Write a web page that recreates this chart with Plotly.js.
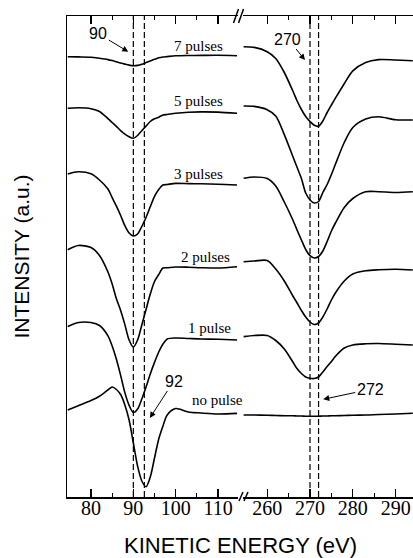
<!DOCTYPE html>
<html>
<head>
<meta charset="utf-8">
<script src="https://cdn.plot.ly/plotly-3.0.1.min.js"></script>
<style>html,body{margin:0;padding:0;background:#fff;}#chart{width:413px;height:558px;}</style>
</head>
<body>
<div id="chart"></div>
<script>
// Kinetic energy grids (eV)
const energyLeft = [74.5, 77, 80, 82, 84, 85, 86, 87, 88, 89, 90, 91, 92, 93, 94, 95, 96, 97, 98, 100, 103, 106, 110, 114.5];
const energyRight = [254.5, 257, 260, 262, 264, 266, 267, 268, 269, 270, 271, 272, 273, 274, 275, 276, 278, 280, 283, 286, 290, 294];

// Curve labels
const seriesNames = ['7 pulses', '5 pulses', '3 pulses', '2 pulses', '1 pulse', 'no pulse'];

// Intensity (a.u., stacked) – low-energy region
const pulses7Left = [440.3, 440.1, 439.8, 438.7, 437.4, 436.4, 435.2, 434, 432.9, 431.9, 431.3, 431.6, 432.7, 434.4, 436.1, 437.7, 439.2, 440, 440.4, 441.2, 441.5, 441.6, 441.7, 441.3];
const pulses5Left = [388.7, 389.3, 388.3, 385.5, 378.4, 374.5, 370.6, 366.4, 362.8, 360.2, 358.7, 361.5, 366.3, 370.9, 375.5, 378.2, 379.8, 382, 382.5, 383.7, 384.8, 385.1, 384.9, 383.7];
const pulses3Left = [323, 325.2, 323.2, 317, 308, 299.3, 290.8, 281.5, 271.3, 264, 261, 263, 270.5, 279.5, 290.2, 300.7, 307.5, 312, 312.5, 313.6, 313.4, 313.2, 312.8, 312];
const pulses2Left = [247.3, 251.5, 249.5, 241.5, 225, 213, 198.2, 186.5, 172.4, 157, 150, 157, 172, 187.5, 203, 215.5, 222.5, 229, 229.3, 230, 229.8, 229.3, 229, 230.3];
const pulses1Left = [170.5, 174.5, 174.5, 171.5, 161.2, 151, 137.7, 121.6, 104.4, 91.7, 84.5, 88, 98, 110, 123, 134.6, 145, 153, 158, 159, 158.5, 158, 157.7, 157];
const pulses0Left = [87, 91.2, 96.4, 100.8, 107.1, 110, 107.5, 102.5, 92, 77, 54, 31, 16, 10.3, 20, 39, 58, 71, 82.1, 88.5, 85, 84, 83, 83.6];

// Intensity (a.u., stacked) – high-energy region
const pulses7Right = [450.3, 449.6, 445.3, 438.5, 424.5, 406, 396, 387.5, 380.5, 375.5, 371.7, 370.8, 376, 384.5, 392, 399.3, 413.3, 426.1, 434.5, 437.4, 437, 436.3];
const pulses5Right = [391, 390.6, 387.3, 381, 362.4, 340.5, 329.5, 318.5, 304, 297, 294, 295.5, 304.5, 312.5, 322.5, 333.5, 354.5, 369.5, 378, 380.2, 377.3, 377];
const pulses3Right = [318.8, 320, 318.5, 311, 295, 277, 266.8, 257, 247.5, 241.3, 239, 240.5, 246, 255.5, 266, 274.5, 289.5, 298.5, 305.3, 305.3, 304.5, 305.3];
const pulses2Right = [235.3, 236, 236.5, 228, 216, 201, 194, 186.5, 180, 175, 172.5, 174, 180, 188, 197, 204.5, 216, 223, 226.2, 227.2, 227.7, 227];
const pulses1Right = [160.4, 161.5, 161.5, 156.5, 148, 135, 128.2, 123.5, 120, 118.7, 118.5, 120, 125, 130.5, 135.5, 141, 149, 152, 153.2, 153.5, 152.8, 152];
const pulses0Right = [82, 82, 81.8, 81.5, 81.3, 81.2, 81, 81, 80.8, 80.7, 80.7, 80.8, 81, 81, 81.2, 81.3, 81.5, 81.8, 82, 82.5, 83, 83.7];

// Reference energies (dashed markers)
const peakLeft = [90, 92.6];
const peakRight = [270, 272];

// Tick values
const majorLeft = [80, 90, 100, 110];
const minorLeft = [85, 95, 105];
const majorRight = [260, 270, 280, 290];
const minorRight = [265, 275, 285];

const leftSeries = [pulses7Left, pulses5Left, pulses3Left, pulses2Left, pulses1Left, pulses0Left];
const rightSeries = [pulses7Right, pulses5Right, pulses3Right, pulses2Right, pulses1Right, pulses0Right];

const lineStyle = {color: '#000', width: 1.6, shape: 'spline', smoothing: 0.8};
const traces = [];
leftSeries.forEach((ys, i) => traces.push({x: energyLeft, y: ys, xaxis: 'x', yaxis: 'y', mode: 'lines', line: lineStyle, name: seriesNames[i], hoverinfo: 'skip'}));
rightSeries.forEach((ys, i) => traces.push({x: energyRight, y: ys, xaxis: 'x2', yaxis: 'y', mode: 'lines', line: lineStyle, name: seriesNames[i], hoverinfo: 'skip'}));

const serif = '"Liberation Serif", "Times New Roman", serif';
const sans = '"Liberation Sans", Arial, sans-serif';

function xAxis(domain, range, major, minor) {
  return {
    domain: domain, range: range, anchor: 'y',
    tickmode: 'array', tickvals: major, ticktext: major.map(String),
    ticks: 'inside', ticklen: 8, tickwidth: 1.3, tickcolor: '#000',
    ticklabelstandoff: -8,
    showline: true, linecolor: '#000', linewidth: 1.5, mirror: 'ticks',
    showgrid: false, zeroline: false,
    tickfont: {family: serif, size: 20, color: '#000'},
    minor: {tickmode: 'array', tickvals: minor, ticks: 'inside', ticklen: 4, tickwidth: 1.2, tickcolor: '#000', showgrid: false}
  };
}

const shapes = [];
const dash = {color: '#000', width: 1.2, dash: '6px,3px'};
peakLeft.forEach(v => shapes.push({type: 'line', xref: 'x', yref: 'paper', x0: v, x1: v, y0: 0, y1: 1, line: dash}));
peakRight.forEach(v => shapes.push({type: 'line', xref: 'x2', yref: 'paper', x0: v, x1: v, y0: 0, y1: 1, line: dash}));
// axis break marks
const brk = {color: '#000', width: 1.5};
[[0.4812, 0.9854, 0.4957, 1.0146], [0.4957, 0.9854, 0.5101, 1.0146],
 [0.4971, -0.0083, 0.5087, 0.0104], [0.5116, -0.0083, 0.5231, 0.0104]].forEach(s =>
  shapes.push({type: 'line', xref: 'paper', yref: 'paper', x0: s[0], y0: s[1], x1: s[2], y1: s[3], line: brk}));

const labelPos = [[105.5, 451], [105.5, 396], [105.5, 323], [107.1, 240.3], [108.0, 168.7], [109.9, 97]];
const annotations = seriesNames.map((t, i) => ({
  text: t, xref: 'x', yref: 'y', x: labelPos[i][0], y: labelPos[i][1], showarrow: false,
  font: {family: serif, size: 15, color: '#000'}
}));
const arrowFont = {family: sans, size: 16, color: '#000'};
const arrowStyle = {showarrow: true, arrowhead: 2, arrowsize: 1.2, arrowwidth: 1, arrowcolor: '#000', font: arrowFont};
annotations.push(Object.assign({text: '90', xref: 'x', yref: 'y', x: 88.8, y: 445.3, ax: -30, ay: -18}, arrowStyle));
annotations.push(Object.assign({text: '92', xref: 'x', yref: 'y', x: 93.9, y: 79, ax: 24, ay: -37}, arrowStyle));
annotations.push(Object.assign({text: '270', xref: 'x2', yref: 'y', x: 268.83, y: 437, ax: -17, ay: -21}, arrowStyle));
annotations.push(Object.assign({text: '272', xref: 'x2', yref: 'y', x: 273.1, y: 97.7, ax: 47, ay: -10}, arrowStyle));
annotations.push({text: 'KINETIC ENERGY (eV)', xref: 'paper', yref: 'paper', x: 0.5014, y: -0.0998,
  xanchor: 'center', yanchor: 'middle', showarrow: false, font: {family: sans, size: 22, color: '#000'}});

const layout = {
  width: 413, height: 558,
  margin: {l: 67, r: 0, t: 16, b: 61, pad: 0},
  paper_bgcolor: '#fff', plot_bgcolor: '#fff',
  showlegend: false,
  xaxis: xAxis([0, 0.4942], [74.33, 114.72], majorLeft, minorLeft),
  xaxis2: xAxis([0.5087, 1], [254.36, 294.05], majorRight, minorRight),
  yaxis: {
    domain: [0, 1], range: [0, 481], anchor: 'x',
    showline: true, linecolor: '#000', linewidth: 1.5, ticks: '', showticklabels: false,
    showgrid: false, zeroline: false,
    title: {text: 'INTENSITY (a.u.)', font: {family: sans, size: 21, color: '#000'}, standoff: 30}
  },
  shapes: shapes,
  annotations: annotations
};

Plotly.newPlot('chart', traces, layout, {displayModeBar: false, staticPlot: true});
</script>
</body>
</html>
